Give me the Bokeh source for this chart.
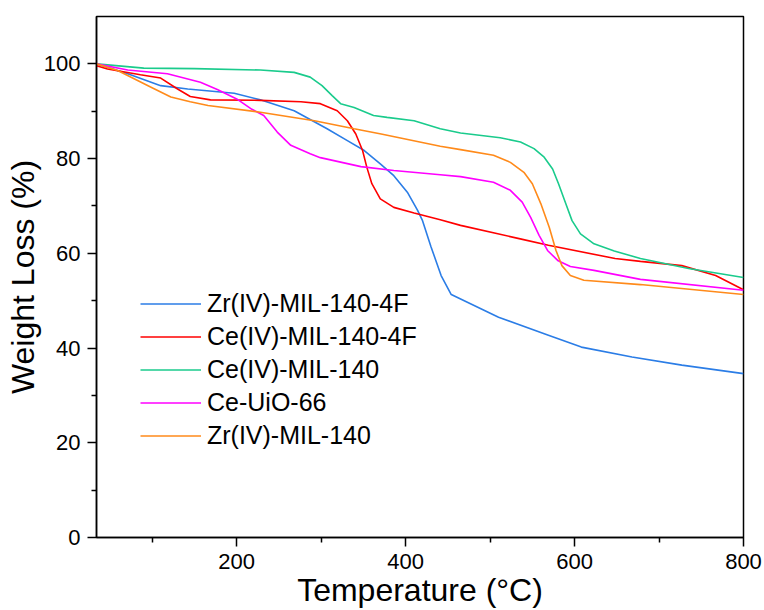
from bokeh.plotting import figure
from bokeh.models import Range1d, FixedTicker, Legend, LegendItem
from bokeh.embed import file_html
from bokeh.resources import INLINE

# Zr(IV)-MIL-140-4F
zr4f_t = [34, 71, 110, 142, 197, 228, 268, 307, 331, 351, 370, 386, 402, 414, 420, 430, 442, 454, 510, 569, 608, 668, 727, 800]
zr4f_w = [100, 97.9, 95.4, 94.7, 93.8, 92.4, 90.1, 86.3, 83.8, 81.7, 78.9, 76.4, 72.9, 69.1, 66.9, 61.4, 55.3, 51.3, 46.5, 42.7, 40.2, 38.1, 36.4, 34.6]
# Ce(IV)-MIL-140-4F
ce4f_t = [34, 47, 86, 110, 130, 145, 169, 228, 276, 299, 319, 331, 341, 349, 354, 360, 370, 386, 410, 441, 465, 537, 569, 648, 678, 727, 767, 800]
ce4f_w = [99.6, 98.9, 97.7, 97.0, 94.7, 93.1, 92.4, 92.3, 92.0, 91.6, 90.1, 88.0, 85.2, 81.7, 78.2, 74.7, 71.5, 69.7, 68.5, 67.1, 65.9, 63.0, 61.7, 58.9, 58.3, 57.4, 55.3, 52.3]
# Ce(IV)-MIL-140
ce_t = [34, 90, 150, 228, 268, 287, 301, 313, 323, 339, 362, 378, 410, 441, 465, 512, 536, 552, 564, 574, 581, 589, 597, 607, 623, 647, 678, 735, 800]
ce_w = [100, 99.1, 99.0, 98.7, 98.2, 97.2, 95.4, 93.3, 91.6, 90.8, 89.1, 88.7, 88.0, 86.3, 85.4, 84.4, 83.5, 82.1, 80.3, 77.8, 74.7, 70.8, 66.9, 64.1, 62.0, 60.5, 58.9, 56.8, 54.9]
# Ce-UiO-66
uio_t = [34, 71, 118, 157, 177, 200, 218, 232, 248, 264, 287, 299, 347, 386, 441, 465, 504, 524, 538, 548, 558, 568, 580, 595, 623, 678, 800]
uio_w = [100, 98.7, 97.9, 96.1, 94.6, 92.6, 90.4, 89.1, 85.6, 82.8, 81.0, 80.2, 78.3, 77.5, 76.6, 76.2, 75.0, 73.3, 70.8, 67.6, 63.8, 60.6, 58.5, 57.2, 56.4, 54.5, 52.2]
# Zr(IV)-MIL-140
zr_t = [34, 59, 98, 122, 145, 166, 228, 292, 339, 371, 441, 465, 504, 524, 540, 550, 560, 570, 578, 585, 595, 611, 678, 800]
zr_w = [100, 98.6, 95.1, 93.0, 92.0, 91.2, 89.8, 88.0, 86.3, 85.2, 82.6, 81.9, 80.7, 79.2, 77.1, 74.7, 70.5, 65.5, 60.6, 57.4, 55.3, 54.3, 53.4, 51.3]

names = ["Zr(IV)-MIL-140-4F", "Ce(IV)-MIL-140-4F", "Ce(IV)-MIL-140", "Ce-UiO-66", "Zr(IV)-MIL-140"]
colors = ["#2B7DE6", "#FF0000", "#1ACB8C", "#FF00FF", "#FF8A1A"]
series = [(zr4f_t, zr4f_w), (ce4f_t, ce4f_w), (ce_t, ce_w), (uio_t, uio_w), (zr_t, zr_w)]

x_major = [200, 400, 600, 800]
x_minor = [100, 300, 500, 700]
y_major = [0, 20, 40, 60, 80, 100]
y_minor = [10, 30, 50, 70, 90]

FONT = "Liberation Sans"

p = figure(width=764, height=610, output_backend="svg", toolbar_location=None,
           x_range=Range1d(34, 800), y_range=Range1d(0, 110),
           min_border_left=96, min_border_right=21, min_border_top=16, min_border_bottom=73)
p.grid.visible = False
p.outline_line_color = "black"
p.outline_line_width = 1.5

items = []
for (t, w), name, c in zip(series, names, colors):
    r = p.line(t, w, line_color=c, line_width=1.6)
    items.append(LegendItem(label=name, renderers=[r]))

legend = Legend(items=items, location=(44, 85), glyph_width=61, glyph_height=33,
                label_height=33, label_standoff=6, spacing=0, padding=0, margin=0,
                border_line_color=None, background_fill_alpha=0,
                label_text_font=FONT, label_text_font_size="25px", label_text_color="black")
p.add_layout(legend, "center")

for ax in (p.xaxis[0], p.yaxis[0]):
    ax.axis_line_width = 1.5
    ax.axis_line_color = "black"
    ax.major_tick_line_width = 1.5
    ax.minor_tick_line_width = 1.5
    ax.major_tick_in = 0
    ax.major_tick_out = 9
    ax.minor_tick_in = 0
    ax.minor_tick_out = 5
    ax.major_label_text_font = FONT
    ax.major_label_text_font_size = "22px"
    ax.major_label_text_color = "black"
    ax.axis_label_text_font = FONT
    ax.axis_label_text_font_size = "32px"
    ax.axis_label_text_font_style = "normal"
    ax.axis_label_text_color = "black"
    ax.major_label_standoff = 7

p.xaxis.ticker = FixedTicker(ticks=x_major, minor_ticks=x_minor)
p.yaxis.ticker = FixedTicker(ticks=y_major, minor_ticks=y_minor)
p.xaxis.axis_label = "Temperature (\u00b0C)"
p.yaxis.axis_label = "Weight Loss (%)"
p.xaxis.axis_label_standoff = 0
p.yaxis.axis_label_standoff = 0

open("out.html", "w").write(file_html(p, INLINE))
